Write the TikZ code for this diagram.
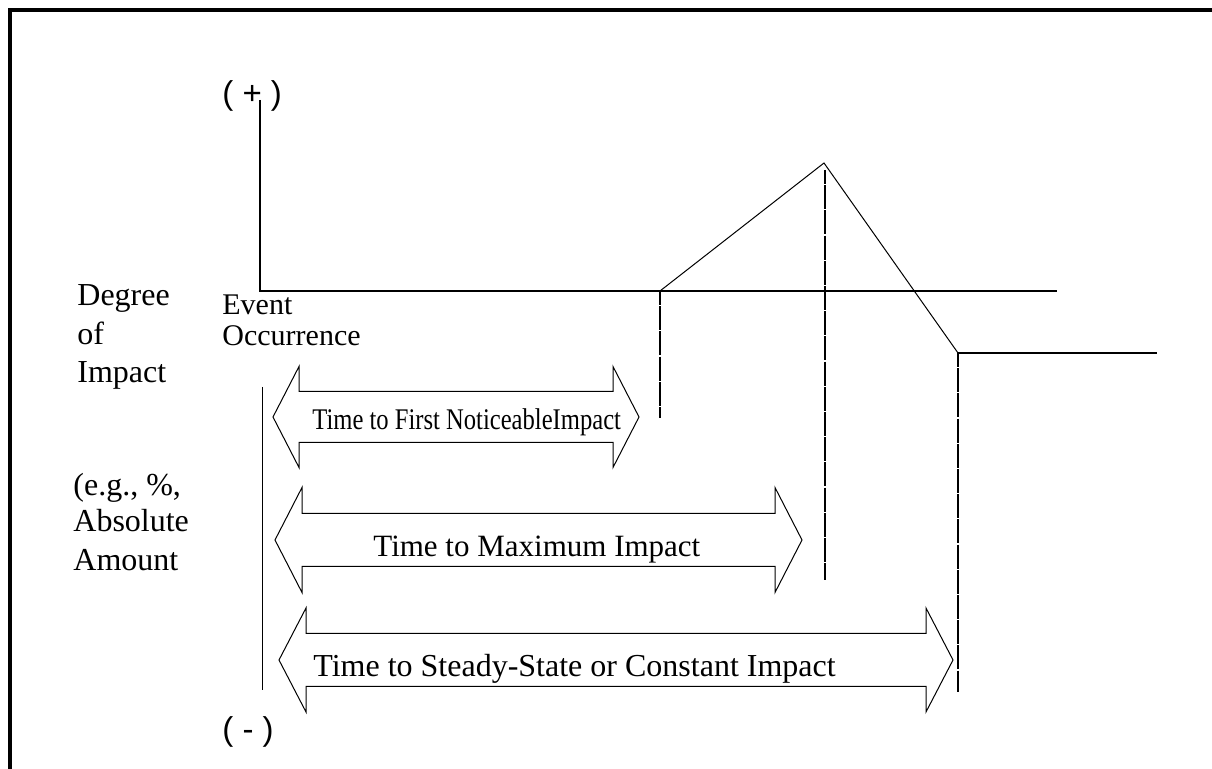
\documentclass[tikz,border=0pt]{standalone}
\usepackage{fontspec}
\setmainfont{Liberation Serif}
\newfontfamily\signfont{Liberation Sans}
\newfontfamily\narrowfont[FakeStretch=0.82]{Liberation Serif}
\begin{document}
\begin{tikzpicture}[x=0.5pt,y=-0.5pt,line cap=butt,line join=miter]
	\tikzset{axis/.style={line width=1pt},
		rise/.style={line width=0.5pt},
		guide/.style={line width=1.4pt,dash pattern=on 12pt off 0.6pt,dash phase=5pt},
		span/.style={line width=0.5pt},
		lab/.style={inner sep=0pt,anchor=base west,font=\fontsize{16}{19}\selectfont}}
	\useasboundingbox (0,0) rectangle (1212,769);
	\draw[line width=2pt] (1212,10)--(10,10)--(10,769);
	% axes and impact curve
	\coordinate (O) at (260,291);
	\coordinate (top) at (260,100);
	\coordinate (end) at (1057,291);
	\coordinate (first) at (660,291);
	\coordinate (peak) at (824,163);
	\coordinate (steady) at (958,353);
	\coordinate (far) at (1157,353);
	\draw[axis] (top)--(O)--(end);
	\draw[rise] (first)--(peak)--(steady);
	\draw[axis] (steady)--(far);
	\draw[guide] (first)--(660,418);
	\draw[guide] (825,170)--(825,580);
	\draw[guide] (steady)--(958,692);
	\draw[rise] (262,387)--(262,690);
	\node[lab,font=\signfont\fontsize{16.5}{19}\selectfont] (plus) at (222,105) {( + )};
	\node[lab,font=\signfont\fontsize{16.5}{19}\selectfont] (minus) at (222,741) {( - )};
	% left labels
	\foreach \t/\y in {Degree/306,of/345,Impact/383}{
			\node[lab] (deg\y) at (77,\y) {\t};}
	\node[lab] (eg) at (73,496) {(e.g., \%,};
	\node[lab] (abs) at (73,532) {Absolute};
	\node[lab] (amt) at (73,571) {Amount};
	\node[lab,font=\fontsize{15}{18}\selectfont] (ev) at (222,315) {Event};
	\node[lab,font=\fontsize{15}{18}\selectfont] (occ) at (222,346) {Occurrence};
	% time spans
	\foreach \xl/\xr/\yc/\hh/\hs/\hl in {273/639/417/50.5/25.5/26,275/802/540/52.5/26.5/27,279/953/660/52/26.5/27}{
			\draw[span] (\xl,\yc)--++(\hl,-\hh)--++(0,\hh-\hs)--({\xr-\hl},{\yc-\hs})
			--++(0,\hs-\hh)--(\xr,\yc)--++(-\hl,\hh)--++(0,\hs-\hh)
			--({\xl+\hl},{\yc+\hs})--++(0,\hh-\hs)--cycle;}
	\node[lab,font=\narrowfont\fontsize{15}{18}\selectfont] (t1) at (312,430) {Time to First NoticeableImpact};
	\node[lab,font=\fontsize{15.5}{18}\selectfont] (t2) at (373,557) {Time to Maximum Impact};
	\node[lab] (t3) at (313,677) {Time to Steady-State or Constant Impact};
\end{tikzpicture}
\end{document}
